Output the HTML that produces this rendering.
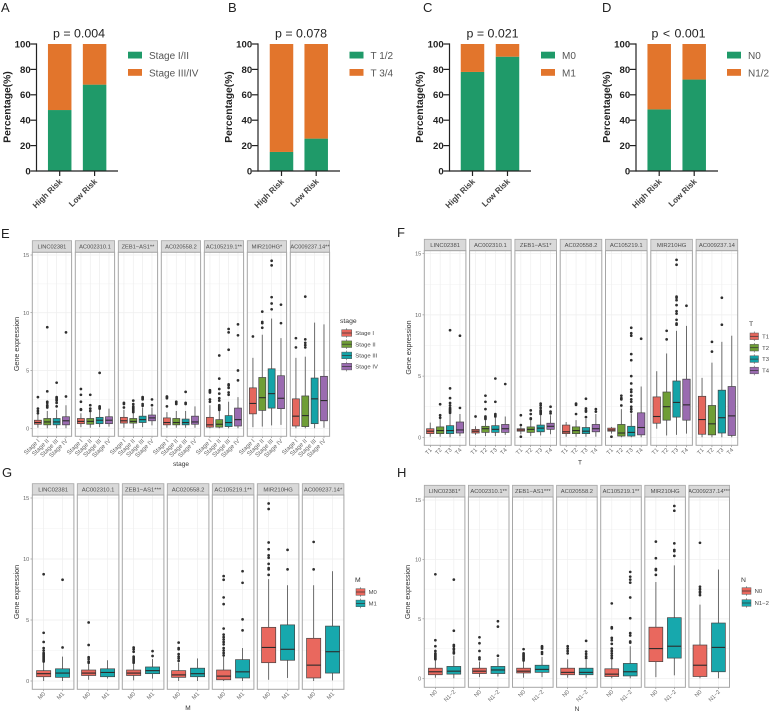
<!DOCTYPE html>
<html lang="en">
<head>
<meta charset="utf-8">
<title>Risk score and clinical features</title>
<style>
html,body{margin:0;padding:0;background:#fff;}
svg{font-family:"Liberation Sans",sans-serif;}
#fig{display:block;filter:blur(0.3px);}
.letter{font-size:13px;fill:#222;}
.ptitle{font-size:12.4px;fill:#222;text-anchor:middle;}
.pct{font-size:10.3px;font-weight:bold;fill:#222;text-anchor:middle;}
.gene-title{font-size:7.2px;fill:#333;text-anchor:middle;}
.x-title{font-size:6.5px;fill:#333;text-anchor:middle;}
.leg-title{font-size:6.8px;fill:#333;}
</style>
</head>
<body>
<svg id="fig" width="770" height="711" viewBox="0 0 770 711" xmlns="http://www.w3.org/2000/svg">
  <rect x="0" y="0" width="770" height="711" fill="#ffffff"/>

  <text class="letter" x="1" y="12">A</text>
  <text class="letter" x="228" y="12">B</text>
  <text class="letter" x="423" y="12">C</text>
  <text class="letter" x="602" y="12">D</text>
  <text class="letter" x="1" y="238">E</text>
  <text class="letter" x="397" y="237">F</text>
  <text class="letter" x="2" y="477">G</text>
  <text class="letter" x="397" y="477">H</text>

  <text class="ptitle" x="79" y="37.5">p = 0.004</text>
  <text class="ptitle" x="301" y="37.5">p = 0.078</text>
  <text class="ptitle" x="492.5" y="37.5">p = 0.021</text>
  <text class="ptitle" x="678.5" y="37.5" word-spacing="1">p &lt; 0.001</text>

  <text class="pct" transform="translate(10.5,107) rotate(-90)">Percentage(%)</text>
  <text class="pct" transform="translate(232,107) rotate(-90)">Percentage(%)</text>
  <text class="pct" transform="translate(423,107) rotate(-90)">Percentage(%)</text>
  <text class="pct" transform="translate(610,107) rotate(-90)">Percentage(%)</text>

  <text class="gene-title" transform="translate(19,344) rotate(-90)">Gene expression</text>
  <text class="gene-title" transform="translate(411,347.5) rotate(-90)">Gene expression</text>
  <text class="gene-title" transform="translate(19,592) rotate(-90)">Gene expression</text>
  <text class="gene-title" transform="translate(410,592) rotate(-90)">Gene expression</text>

  <text class="x-title" x="181" y="466">stage</text>
  <text class="x-title" x="580" y="464.5">T</text>
  <text class="x-title" x="188" y="710">M</text>
  <text class="x-title" x="577" y="711">N</text>

  <text class="leg-title" x="340" y="323">stage</text>
  <text class="leg-title" x="749" y="326">T</text>
  <text class="leg-title" x="355" y="582">M</text>
  <text class="leg-title" x="741" y="582">N</text>
</svg>

<script>
/* ---------- stacked bar data (A-D) ---------- */
const riskGroups = ["High Risk", "Low Risk"];
const percentTicks = [0, 20, 40, 60, 80, 100];

const stageLegend = ["Stage I/II", "Stage III/IV"];
const stageEarlyPct = [48, 68];
const stageLatePct = [52, 32];

const tumorLegend = ["T 1/2", "T 3/4"];
const tumorEarlyPct = [15, 25.5];
const tumorLatePct = [85, 74.5];

const metLegend = ["M0", "M1"];
const metNegPct = [78, 90];
const metPosPct = [22, 10];

const nodeLegend = ["N0", "N1/2"];
const nodeNegPct = [48.5, 72];
const nodePosPct = [51.5, 28];

/* ---------- box plot shared data ---------- */
const exprTicks = [0, 5, 10, 15];

/* ---------- panel E: stage ---------- */
const eGenes = ["LINC02381","AC002310.1","ZEB1\u2212AS1**","AC020558.2","AC105219.1**","MIR210HG*","AC009237.14**"];
const eCategories = ["Stage I","Stage II","Stage III","Stage IV"];
const eLower = [[0.05,0,0,0],[0.1,0.05,0.1,0.15],[0.05,0,0.1,0.25],[0.05,0.05,0.05,0.05],[0,0,0,0],[0.1,0.15,0.25,0.3],[0,0,0,0.05]];
const eQ1 = [[0.35,0.3,0.3,0.3],[0.4,0.35,0.4,0.4],[0.45,0.45,0.5,0.65],[0.3,0.3,0.3,0.35],[0.1,0.1,0.15,0.2],[1.25,1.55,1.75,1.7],[0.2,0.15,0.4,0.65]];
const eMedian = [[0.5,0.55,0.55,0.65],[0.6,0.6,0.7,0.7],[0.65,0.6,0.75,0.9],[0.5,0.5,0.5,0.55],[0.3,0.35,0.5,0.75],[2.15,2.65,3.0,2.6],[1.05,1.1,2.55,2.4]];
const eQ3 = [[0.7,0.85,0.85,1.0],[0.85,0.85,0.95,1.0],[0.95,0.85,1.05,1.15],[0.9,0.85,0.8,1.05],[0.95,0.75,1.1,1.75],[3.5,4.4,5.15,4.55],[2.55,2.8,4.35,4.5]];
const eUpper = [[1.2,1.5,1.6,2.0],[1.3,1.4,1.6,1.7],[1.6,1.3,1.8,1.8],[1.4,1.5,1.5,1.9],[2.0,1.5,2.3,2.7],[6.1,8.1,9.5,7.8],[6.1,6.2,9.15,9.0]];
const eOutliers = [
  [[1.3,1.5,1.7,2.7],[1.8,1.9,2.0,2.2,2.3,3.2,8.75],[1.9,2.2,2.4,2.5,2.6,2.7,3.95],[2.75,8.3]],
  [[1.6,1.65,2.3,2.9,3.4],[1.5,1.7,2.0,2.9],[1.7,1.8,1.9,4.8],[]],
  [[1.8,2.1,2.2],[1.4,1.5,1.6,1.7,1.8,1.9,2.1,2.4],[1.95,2.1,2.5,2.6,2.7],[2.0,2.5]],
  [[1.9,2.6,2.7,2.75],[2.1,2.2,2.3],[2.1,2.2,3.15],[]],
  [[2.3,2.5,3.1,3.2,3.3],[1.6,1.7,1.8,1.9,2.0,2.4,2.6,3.0,3.4,4.3,6.3],[2.9,3.1,3.5,3.7,3.8,6.8,8.3,8.6],[4.15,5.0,8.05,9.0]],
  [[7.95],[8.7,9.1,9.2,10.1],[10.3,10.8,11.35,14.1,14.5],[9.1,10.7]],
  [[7.0,7.8],[7.0,7.2,7.4,7.7,11.4],[],[]]
];

/* ---------- panel F: T ---------- */
const fGenes = ["LINC02381","AC002310.1","ZEB1\u2212AS1*","AC020558.2","AC105219.1","MIR210HG","AC009237.14"];
const fCategories = ["T1","T2","T3","T4"];
const fLower = [[0.05,0.05,0,0.1],[0.2,0.1,0.1,0.2],[0.25,0.1,0.15,0.25],[0.05,0.05,0.05,0.05],[0.3,0,0,0],[0.7,0.15,0.2,0.3],[0,0,0,0]];
const fQ1 = [[0.3,0.3,0.3,0.35],[0.35,0.4,0.4,0.4],[0.5,0.4,0.45,0.65],[0.3,0.3,0.3,0.45],[0.5,0.1,0.1,0.2],[1.15,1.4,1.65,1.4],[0.25,0.2,0.35,0.15]];
const fMedian = [[0.5,0.55,0.55,0.6],[0.5,0.7,0.65,0.7],[0.6,0.65,0.75,0.9],[0.45,0.55,0.5,0.7],[0.6,0.35,0.4,0.8],[1.7,2.5,2.85,2.65],[1.45,1.1,1.6,1.75]];
const fQ3 = [[0.7,0.85,0.95,1.25],[0.65,0.9,0.95,1.05],[0.7,0.85,1.0,1.15],[1.0,0.85,0.8,1.05],[0.75,1.05,0.9,2.0],[3.3,3.7,4.6,4.75],[3.35,2.6,3.85,4.15]];
const fUpper = [[1.2,1.5,1.9,1.9],[0.9,1.4,1.6,1.7],[0.9,1.4,1.8,1.8],[1.25,1.4,1.5,1.9],[0.85,2.3,1.95,4.15],[5.4,6.85,8.7,9.1],[4.85,6.1,7.8,8.3]];
const fOutliers = [
  [[],[1.6,1.8,2.7],[2.0,2.1,2.2,2.3,2.4,2.6,2.8,3.2,4.0,8.75],[2.4,8.3]],
  [[1.7],[1.5,1.6,1.7,2.3,2.9,3.4],[1.7,1.8,1.9,2.9,4.8],[4.35]],
  [[0.05,1.0,1.8],[1.5,1.55,1.9,2.2],[1.9,2.0,2.1,2.2,2.4,2.6,2.75],[1.95,2.1,2.5]],
  [[],[1.9,2.65,2.75],[1.65,2.1,2.2,2.35,3.15],[2.1,2.3]],
  [[0.05],[2.6,3.1,3.2,3.4],[2.1,2.3,2.5,2.9,3.1,3.4,3.7,3.9,4.4,5.0,6.3,6.8,8.3,8.5,8.95],[8.05]],
  [[],[8.0,8.7],[9.2,9.3,9.6,10.1,10.3,10.8,11.2,11.4,11.5,14.1,14.5],[10.75]],
  [[],[7.0,7.8],[9.2,11.4],[]]
];

/* ---------- panel G: M ---------- */
const gGenes = ["LINC02381","AC002310.1","ZEB1\u2212AS1***","AC020558.2","AC105219.1**","MIR210HG","AC009237.14*"];
const gCategories = ["M0","M1"];
const gLower = [[0,0],[0.1,0.2],[0.05,0.2],[0,0],[0,0],[0.1,0.25],[0,0.05]];
const gQ1 = [[0.35,0.3],[0.45,0.35],[0.45,0.6],[0.3,0.35],[0.1,0.25],[1.5,1.7],[0.25,0.65]];
const gMedian = [[0.6,0.65],[0.65,0.7],[0.65,0.85],[0.5,0.6],[0.4,0.75],[2.75,2.6],[1.3,2.4]];
const gQ3 = [[0.85,1.0],[0.9,1.0],[0.9,1.15],[0.85,1.05],[0.9,1.75],[4.4,4.6],[3.5,4.5]];
const gUpper = [[1.6,2.0],[1.4,1.7],[1.4,1.8],[1.5,1.85],[2.0,2.7],[8.35,7.85],[7.85,9.0]];
const gOutliers = [
  [[1.6,1.7,1.8,1.9,2.0,2.1,2.2,2.3,2.5,2.7,3.2,3.95,8.75],[2.75,8.3]],
  [[1.5,1.6,1.8,1.95,2.95,4.8],[]],
  [[1.5,1.6,1.7,1.8,1.9,2.0,2.4,2.6,2.75],[2.05,2.45]],
  [[1.65,1.85,2.0,2.2,2.6,2.7,3.15],[]],
  [[2.1,2.3,2.5,2.7,3.0,3.2,3.4,3.6,3.8,4.3,6.3,6.85,8.3,8.6],[4.15,5.05,8.05,9.0]],
  [[8.7,9.15,9.25,9.6,10.1,10.3,10.8,11.35,14.1,14.55],[9.15,10.75]],
  [[9.15,11.4],[]]
];

/* ---------- panel H: N ---------- */
const hGenes = ["LINC02381*","AC002310.1**","ZEB1\u2212AS1***","AC020558.2","AC105219.1**","MIR210HG","AC009237.14***"];
const hCategories = ["N0","N1\u22122"];
const hLower = [[0.05,0],[0.1,0.15],[0.05,0.1],[0.05,0.05],[0,0],[0.1,0.25],[0,0]];
const hQ1 = [[0.3,0.35],[0.4,0.4],[0.45,0.5],[0.3,0.3],[0.15,0.2],[1.4,1.7],[0.15,0.55]];
const hMedian = [[0.55,0.6],[0.6,0.7],[0.6,0.75],[0.5,0.5],[0.35,0.55],[2.5,2.7],[1.1,2.6]];
const hQ3 = [[0.85,1.0],[0.85,1.0],[0.85,1.1],[0.85,0.85],[0.8,1.25],[4.3,5.1],[2.8,4.65]];
const hUpper = [[1.5,1.9],[1.4,1.7],[1.4,1.8],[1.6,1.55],[1.6,2.7],[8.1,9.5],[6.2,9.15]];
const hOutliers = [
  [[1.6,1.7,1.8,1.9,2.0,2.1,2.3,2.7,3.2,8.75],[2.1,2.2,2.4,2.5,2.7,2.8,4.0,8.3]],
  [[1.6,1.75,2.3,2.95,3.45],[1.9,4.35,4.8]],
  [[1.5,1.6,1.7,1.8,1.9,2.0,2.1,2.45],[2.05,2.2,2.5,2.6,2.7]],
  [[2.1,2.3,2.5,2.7],[1.7,1.85,2.05,2.25,3.15]],
  [[1.7,1.9,2.1,2.3,2.5,2.9,3.2,3.4,4.2,4.3,6.3],[3.0,3.1,3.6,3.8,5.05,6.8,8.05,8.3,8.55,8.95]],
  [[8.7,9.1,9.2,10.1,11.5],[10.3,10.7,10.8,11.35,14.1,14.5]],
  [[7.0,7.2,7.3,7.5,7.7,11.4],[]]
];

/* ---------- drawing ---------- */
const NS = "http://www.w3.org/2000/svg";
const fig = document.getElementById("fig");
const GREEN = "#1f9a69", ORANGE = "#e2752c";
const FOUR = ["#e5675d", "#6f9e36", "#14a3a8", "#9a6bb0"];
const TWO = ["#e9685e", "#17a8ad"];

function el(tag, attrs, parent, text) {
  const n = document.createElementNS(NS, tag);
  for (const k in attrs) n.setAttribute(k, attrs[k]);
  if (text !== undefined) n.textContent = text;
  (parent || fig).appendChild(n);
  return n;
}

function drawStacked(id, cfg, lowVals, highVals, legend) {
  const g = el("g", {});
  
  
  const yScale = v => cfg.y0 + (cfg.y100 - cfg.y0) * v / 100;
  const xScale = i => cfg.firstBar + i * cfg.step;
  const barW = 23.5;

  riskGroups.forEach((name, i) => {
    const low = el("rect", {x: xScale(i) - barW / 2, y: yScale(lowVals[i]), width: barW, height: yScale(0) - yScale(lowVals[i]), fill: GREEN}, g);
    
    
    const high = el("rect", {x: xScale(i) - barW / 2, y: yScale(lowVals[i] + highVals[i]), width: barW, height: yScale(lowVals[i]) - yScale(lowVals[i] + highVals[i]), fill: ORANGE}, g);
    
    
    const tick = el("line", {x1: xScale(i), x2: xScale(i), y1: yScale(0), y2: yScale(0) + 5, stroke: "#222", "stroke-width": 1.2}, g);
    
    
    const lab = el("text", {transform: "translate(" + (xScale(i) + 3) + "," + (yScale(0) + 11) + ") rotate(-45)", "text-anchor": "end", "font-size": 8.2, "font-weight": "bold", fill: "#444"}, g, name);
    
    
  });

  percentTicks.forEach(v => {
    const t = el("line", {x1: cfg.axisX - 6, x2: cfg.axisX, y1: yScale(v), y2: yScale(v), stroke: "#222", "stroke-width": 1.2}, g);
    
    
    const lab = el("text", {x: cfg.axisX - 5.8, y: yScale(v) + 3.4, "text-anchor": "end", "font-size": 9.6, "font-weight": "bold", fill: "#222"}, g, String(v));
    
    
  });

  const ya = el("line", {x1: cfg.axisX, x2: cfg.axisX, y1: yScale(100) - 0.6, y2: yScale(0) + 0.6, stroke: "#222", "stroke-width": 1.2}, g);
  
  
  const xa = el("line", {x1: cfg.axisX, x2: cfg.axisEnd, y1: yScale(0), y2: yScale(0), stroke: "#222", "stroke-width": 1.2}, g);
  
  

  legend.forEach((name, i) => {
    const sw = el("rect", {x: cfg.legX, y: 51.7 + i * 17.3, width: 14, height: 6.8, fill: i === 0 ? GREEN : ORANGE}, g);
    
    
    const tx = el("text", {x: cfg.legX + 21, y: 59 + i * 17.3, "font-size": 10, fill: "#555"}, g, name);
    
    
  });
}

function drawFacets(id, cfg, genes, cats, colors, lower, q1, median, q3, upper, outliers) {
  const root = el("g", {});
  
  
  const yScale = v => cfg.y0 + (cfg.y15 - cfg.y0) * v / 15;
  const n = cats.length;
  const unit = cfg.w / (n + 0.2);
  const xScale = (p, c) => cfg.x0 + p * cfg.pitch + (0.6 + c) * unit;
  const boxW = unit * 0.75;

  exprTicks.forEach(v => {
    const lab = el("text", {x: cfg.x0 - 3, y: yScale(v) + 2, "text-anchor": "end", "font-size": 5.6, fill: "#666"}, root, String(v));
    
    
    const t = el("line", {x1: cfg.x0 - 1.8, x2: cfg.x0, y1: yScale(v), y2: yScale(v), stroke: "#666", "stroke-width": 0.5}, root);
    
    
  });

  genes.forEach((gene, p) => {
    const g = el("g", {}, root);
    
    
    const left = cfg.x0 + p * cfg.pitch;
    const stripH = cfg.stripBottom - cfg.stripTop;

    const strip = el("rect", {x: left, y: cfg.stripTop, width: cfg.w, height: stripH, fill: "#d9d9d9", stroke: "#a6a6a6", "stroke-width": 0.8}, g);
    
    
    const stripClip = el("svg", {x: left, y: cfg.stripTop, width: cfg.w, height: stripH}, g);
    
    
    const stripText = el("text", {x: cfg.w / 2, y: stripH / 2 + 2, "text-anchor": "middle", "font-size": cfg.stripFont, fill: "#4d4d4d"}, stripClip, gene);
    
    

    const bg = el("rect", {x: left, y: cfg.stripBottom, width: cfg.w, height: cfg.panelBottom - cfg.stripBottom, fill: "#fff"}, g);
    
    

    [0, 2.5, 5, 7.5, 10, 12.5, 15].forEach(v => {
      const gl = el("line", {x1: left, x2: left + cfg.w, y1: yScale(v), y2: yScale(v), stroke: "#eeeeee", "stroke-width": v % 5 === 0 ? 0.7 : 0.4}, g);
      
      
    });
    cats.forEach((cat, c) => {
      const gv = el("line", {x1: xScale(p, c), x2: xScale(p, c), y1: cfg.stripBottom, y2: cfg.panelBottom, stroke: "#eeeeee", "stroke-width": 0.7}, g);
      
      
    });

    cats.forEach((cat, c) => {
      const cx = xScale(p, c);
      const col = colors[c];
      const w = el("line", {x1: cx, x2: cx, y1: yScale(lower[p][c]), y2: yScale(upper[p][c]), stroke: "#5c5c5c", "stroke-width": 0.9}, g);
      
      
      const b = el("rect", {x: cx - boxW / 2, y: yScale(q3[p][c]), width: boxW, height: Math.max(yScale(q1[p][c]) - yScale(q3[p][c]), 0.5), fill: col, stroke: "#444", "stroke-width": 0.7}, g);
      
      
      const m = el("line", {x1: cx - boxW / 2, x2: cx + boxW / 2, y1: yScale(median[p][c]), y2: yScale(median[p][c]), stroke: "#2b2b2b", "stroke-width": 1.1}, g);
      
      
      outliers[p][c].forEach(v => {
        const o = el("circle", {cx: cx, cy: yScale(v), r: 1.35, fill: "#2e2e2e"}, g);
        
        
      });
      const t = el("line", {x1: cx, x2: cx, y1: cfg.panelBottom, y2: cfg.panelBottom + 1.8, stroke: "#666", "stroke-width": 0.5}, g);
      
      
      const lab = el("text", {transform: "translate(" + (cx + 2) + "," + (cfg.panelBottom + 5) + ") rotate(-45)", "text-anchor": "end", "font-size": cfg.tickFont, fill: "#666"}, g, cat);
      
      
    });

    const border = el("rect", {x: left, y: cfg.stripBottom, width: cfg.w, height: cfg.panelBottom - cfg.stripBottom, fill: "none", stroke: "#a6a6a6", "stroke-width": 1}, g);
    
    
  });

  cats.forEach((cat, c) => {
    const ky = cfg.legY + c * cfg.legStep;
    const kx = cfg.legX + cfg.legW / 2;
    const ln = el("line", {x1: kx, x2: kx, y1: ky - 4.8, y2: ky + 4.8, stroke: "#555", "stroke-width": 0.6}, root);
    
    
    const k = el("rect", {x: cfg.legX, y: ky - 3.3, width: cfg.legW, height: 6.6, fill: colors[c], stroke: "#555", "stroke-width": 0.5}, root);
    
    
    const md = el("line", {x1: cfg.legX, x2: cfg.legX + cfg.legW, y1: ky, y2: ky, stroke: "#333", "stroke-width": 0.7}, root);
    
    
    const tx = el("text", {x: cfg.legX + cfg.legW + 3.6, y: ky + 2.1, "font-size": 5.9, fill: "#444"}, root, cat);
    
    
  });
}

drawStacked("a", {axisX: 36.5, axisEnd: 118, firstBar: 59.7, step: 34.9, y0: 171, y100: 44, legX: 128}, stageEarlyPct, stageLatePct, stageLegend);
drawStacked("b", {axisX: 258, axisEnd: 340, firstBar: 281.5, step: 34.7, y0: 171, y100: 44, legX: 349.5}, tumorEarlyPct, tumorLatePct, tumorLegend);
drawStacked("c", {axisX: 449.5, axisEnd: 531, firstBar: 472.5, step: 35, y0: 171, y100: 44, legX: 541}, metNegPct, metPosPct, metLegend);
drawStacked("d", {axisX: 636, axisEnd: 718, firstBar: 659.2, step: 35, y0: 171, y100: 44, legX: 727}, nodeNegPct, nodePosPct, nodeLegend);

drawFacets("e", {x0: 32.3, pitch: 43, w: 39.3, stripTop: 240.7, stripBottom: 252.3, panelBottom: 436.3, y0: 428.3, y15: 255, stripFont: 5.7, tickFont: 6.1, legX: 341.7, legW: 10, legY: 333, legStep: 11.2}, eGenes, eCategories, FOUR, eLower, eQ1, eMedian, eQ3, eUpper, eOutliers);
drawFacets("f", {x0: 424.3, pitch: 45.3, w: 41.6, stripTop: 239.3, stripBottom: 250.7, panelBottom: 445.3, y0: 437.3, y15: 253.7, stripFont: 5.9, tickFont: 5.7, legX: 750, legW: 8.5, legY: 336.3, legStep: 11.4}, fGenes, fCategories, FOUR, fLower, fQ1, fMedian, fQ3, fUpper, fOutliers);
drawFacets("g", {x0: 32.3, pitch: 45, w: 41.6, stripTop: 483.7, stripBottom: 495, panelBottom: 689.3, y0: 681, y15: 498, stripFont: 5.9, tickFont: 5.7, legX: 356, legW: 9, legY: 592, legStep: 11.4}, gGenes, gCategories, TWO, gLower, gQ1, gMedian, gQ3, gUpper, gOutliers);
drawFacets("h", {x0: 424.3, pitch: 44.1, w: 40.6, stripTop: 485.3, stripBottom: 497, panelBottom: 687.3, y0: 678.3, y15: 500, stripFont: 5.8, tickFont: 5.7, legX: 742, legW: 9, legY: 591, legStep: 12}, hGenes, hCategories, TWO, hLower, hQ1, hMedian, hQ3, hUpper, hOutliers);
</script>
</body>
</html>
